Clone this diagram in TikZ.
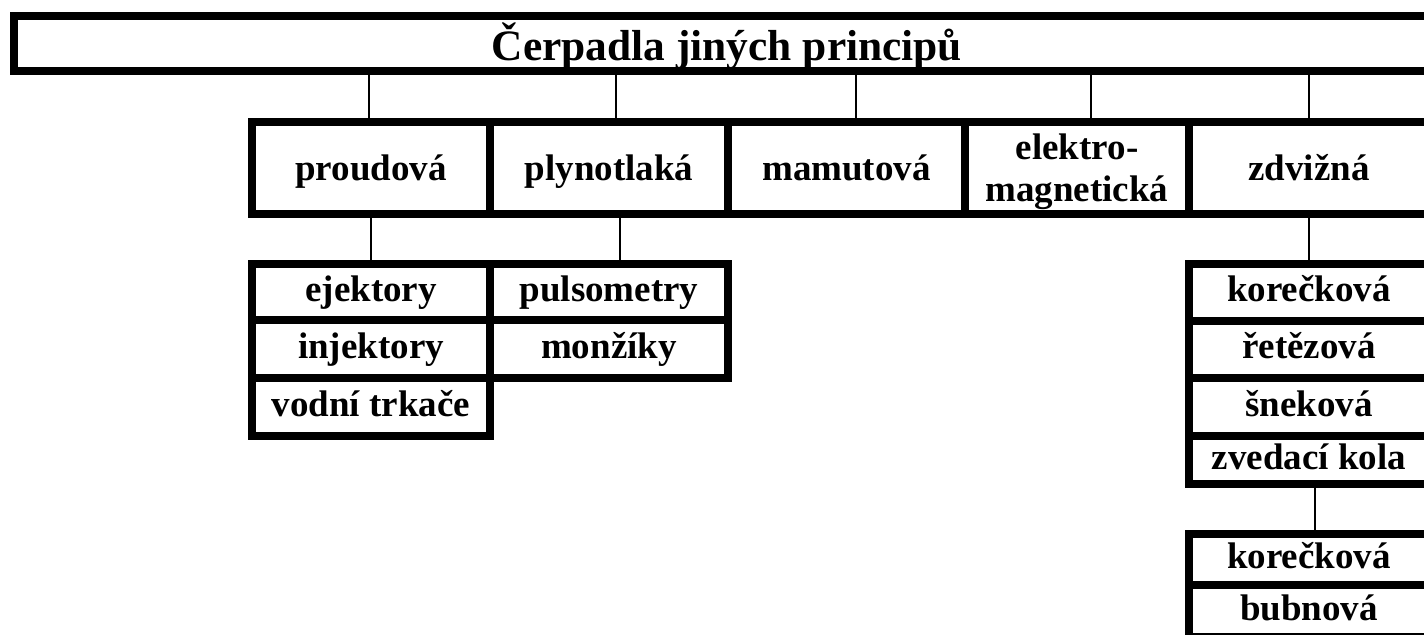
\documentclass[tikz,border=0pt]{standalone}
\usepackage{fontspec}
\setmainfont{Liberation Serif}
\usetikzlibrary{positioning}

\begin{document}
\begin{tikzpicture}[node distance=25pt,
    every node/.style={rectangle, draw, line width=4pt, outer sep=0pt, inner sep=1pt, align=center, text height=13pt, text depth=3.5pt, font=\bfseries\fontsize{18.5}{21.2}\selectfont},
    head/.style={minimum height=46pt, text height=13pt, text depth=0pt},
    conn/.style={line width=1pt}]

    \useasboundingbox (0,0) rectangle (712pt,-317.5pt);
    \clip (0,0) rectangle (712pt,-317.5pt);

    \node[minimum width=713pt, minimum height=27.5pt, text height=17.2pt, text depth=0pt, font=\bfseries\fontsize{21.7}{22}\selectfont] (title) at (363.5pt,-21.75pt) {Čerpadla jiných principů};

    \node[head, minimum width=119pt] (proud) at (185.5pt,-84pt) {proudová};
    \node[head, minimum width=119pt, right=0pt of proud] (plyn) {plynotlaká};
    \node[head, minimum width=118.5pt, right=0pt of plyn] (mamut) {mamutová};
    \node[head, minimum width=112pt, text height=38pt, text depth=4pt, right=0pt of mamut] (elektro) {elektro-\\magnetická};
    \node[head, minimum width=120pt, right=0pt of elektro] (zdviz) {zdvižná};

    \node[minimum width=119pt, minimum height=28pt, below=of proud] (ejekt) {ejektory};
    \node[minimum width=119pt, minimum height=29pt, below=0pt of ejekt] (injekt) {injektory};
    \node[minimum width=119pt, minimum height=29pt, below=0pt of injekt] (vodni) {vodní trkače};

    \node[minimum width=119pt, minimum height=28pt, below=of plyn] (pulso) {pulsometry};
    \node[minimum width=119pt, minimum height=29pt, below=0pt of pulso] (monz) {monžíky};

    \node[minimum width=120pt, minimum height=28.5pt, below=of zdviz] (korec) {korečková};
    \node[minimum width=120pt, minimum height=28.5pt, below=0pt of korec] (retez) {řetězová};
    \node[minimum width=120pt, minimum height=29pt, below=0pt of retez] (snek) {šneková};
    \node[minimum width=120pt, minimum height=24pt, below=0pt of snek] (zved) {zvedací kola};

    \node[minimum width=120pt, minimum height=25.5pt, below=of zved] (korec2) {korečková};
    \node[minimum width=120pt, minimum height=26pt, below=0pt of korec2] (bubn) {bubnová};

    \draw[conn] ([xshift=-1pt]proud.north |- title.south) -- ([xshift=-1pt]proud.north);
    \draw[conn] ([xshift=3.5pt]plyn.north |- title.south) -- ([xshift=3.5pt]plyn.north);
    \draw[conn] ([xshift=4.75pt]mamut.north |- title.south) -- ([xshift=4.75pt]mamut.north);
    \draw[conn] ([xshift=7pt]elektro.north |- title.south) -- ([xshift=7pt]elektro.north);
    \draw[conn] (zdviz.north |- title.south) -- (zdviz.north);

    \draw[conn] (proud.south) -- (ejekt.north);
    \draw[conn] ([xshift=5.5pt]plyn.south) -- ([xshift=5.5pt]pulso.north);
    \draw[conn] (zdviz.south) -- (korec.north);
    \draw[conn] ([xshift=3pt]zved.south) -- ([xshift=3pt]korec2.north);
\end{tikzpicture}
\end{document}
